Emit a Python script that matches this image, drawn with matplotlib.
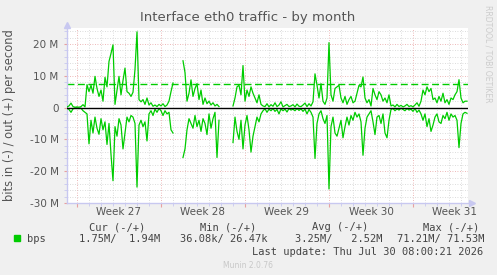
import numpy as np
import matplotlib
matplotlib.use("Agg")
import matplotlib.pyplot as plt
from matplotlib.ticker import FuncFormatter, MultipleLocator

nan = np.nan

# traffic, Mbit/s, sampled every ~2h over the month (out = +, in = -)
out_mbps = [
    0.2, 0.5, 1.4, 0.3, 0.1, 0.2, 0.1, 0.3, 0.9, 0.2,
    7.2, 5.0, 7.0, 4.5, 9.8, 6.0, 3.5, 5.5, 2.0, 9.5,
    6.5, 14.5, 17.0, 19.7, 1.0, 5.5, 9.8, 4.0, 8.5, 12.4,
    5.0, 4.5, 3.5, 4.8, 12.0, 23.8, 2.5, 1.8, 2.5, 1.0,
    3.0, 0.8, 1.5, 0.4, 0.8, 0.3, 1.0, 0.5, 1.2, 0.3,
    0.8, 2.0, 5.0, 7.7, nan, nan, nan, nan, 14.7, 11.0,
    2.0, 4.5, 8.7, 3.5, 6.0, 7.5, 2.5, 5.5, 1.0, 3.0,
    1.2, 2.0, 0.8, 1.5, 0.5, 1.0, 0.3, nan, nan, nan,
    nan, nan, nan, 0.5, 3.0, 6.5, 7.0, 4.0, 13.2, 2.0,
    5.5, 3.5, 6.5, 4.5, 3.0, 1.5, 4.0, 1.0, 0.5, 0.3,
    1.2, 0.2, 0.9, 0.4, 1.5, 0.3, 0.8, 1.8, 0.2, 0.6,
    1.0, 0.3, 0.5, 0.9, 0.2, 1.1, 0.4, 0.3, 0.8, 1.4,
    0.3, 1.2, 0.5, 1.8, 10.6, 7.0, 3.0, 7.5, 2.0, 1.0,
    3.0, 20.4, 4.0, 2.0, 6.0, 6.5, 7.0, 3.0, 1.5, 3.5,
    1.0, 2.5, 3.5, 1.5, 2.0, 4.5, 7.0, 6.5, 9.6, 3.0,
    1.5, 2.5, 0.5, 6.0, 4.0, 2.5, 5.0, 4.0, 2.0, 3.0,
    1.5, 4.0, 0.5, 0.8, 0.2, 1.0, 0.3, 0.7, 0.2, 0.5,
    1.0, 0.3, 0.6, 0.2, 0.8, 1.5, 0.4, 2.0, 5.5, 4.0,
    6.5, 5.0, 6.0, 2.5, 3.0, 1.5, 3.5, 2.0, 4.5, 1.5,
    2.5, 1.0, 3.0, 2.5, 4.0, 5.0, 8.75, 3.0, 1.5, 2.0,
    2.0,
]
in_mbps = [
    0.2, 0.6, 1.5, 0.4, 0.2, 0.1, 0.3, 0.2, 1.0, 1.5,
    2.0, 11.4, 4.0, 8.0, 3.0, 6.5, 8.4, 3.5, 7.0, 4.5,
    11.6, 5.0, 14.7, 23.0, 6.0, 9.0, 3.5, 5.5, 13.0, 8.0,
    3.0, 4.5, 2.5, 3.0, 5.0, 25.0, 5.5, 4.0, 6.0, 4.5,
    10.5, 2.0, 1.0, 2.5, 0.5, 1.5, 0.3, 1.0, 2.5, 1.0,
    2.0, 1.5, 7.0, 8.0, nan, nan, nan, nan, 15.7, 13.0,
    7.0, 3.5, 5.0, 6.5, 2.5, 6.0, 4.0, 7.5, 3.5, 5.0,
    8.5, 2.0, 6.5, 3.5, 1.5, 15.7, 4.0, nan, nan, nan,
    nan, nan, nan, 11.0, 3.0, 7.5, 10.0, 4.0, 13.0, 5.5,
    2.5, 7.0, 14.0, 9.0, 6.0, 3.0, 4.5, 2.0, 1.0, 0.4,
    1.5, 0.5, 1.0, 0.3, 1.2, 0.6, 2.0, 0.4, 1.0, 0.5,
    1.4, 0.3, 0.8, 0.5, 1.0, 0.3, 0.9, 0.4, 1.2, 0.5,
    2.0, 0.6, 1.5, 3.0, 16.0, 5.0, 2.0, 1.0, 3.5, 5.0,
    2.5, 25.6, 6.0, 3.0, 8.0, 9.0, 6.5, 4.0, 9.5, 6.0,
    3.0, 5.5, 2.5, 4.0, 1.5, 3.0, 2.0, 4.5, 15.0, 6.5,
    3.0, 2.0, 1.0, 4.5, 8.5, 3.0, 2.5, 5.0, 2.0, 8.0,
    9.5, 4.0, 0.6, 0.3, 1.0, 0.4, 0.8, 0.2, 0.6, 1.0,
    0.3, 0.8, 0.5, 1.2, 0.3, 1.5, 0.8, 2.0, 4.0, 2.0,
    6.0, 3.5, 7.5, 5.5, 3.0, 2.0, 4.5, 5.0, 2.5, 3.5,
    1.5, 4.0, 2.0, 3.0, 2.5, 4.0, 12.6, 5.0, 2.0, 1.5,
    1.8,
]
limit_mbps = 7.5

weeks = ["Week 27", "Week 28", "Week 29", "Week 30", "Week 31"]
legend_cols = ["Cur (-/+)", "Min (-/+)", "Avg (-/+)", "Max (-/+)"]
legend_vals = ["1.75M/  1.94M", "36.08k/ 26.47k", "3.25M/   2.52M", "71.21M/ 71.53M"]

# time axis in days since the start of week 27
t_start, t_end = -10 / 12, 390 / 12

GREEN = "#00cc00"
AXIS = "#c8c8f0"
W, H = 497, 275


def fx(px):
    return px / W


def fy(py):
    return 1 - py / H


fig = plt.figure(figsize=(W / 100, H / 100), dpi=100, facecolor="#f0f0f0")
ax = fig.add_axes([fx(67), fy(203), 401 / W, 175 / H])
ax.set_facecolor("white")

t_out = np.linspace(t_start, t_end, len(out_mbps))
t_in = np.linspace(t_start, t_end, len(in_mbps))

ax.axhline(limit_mbps, color=GREEN, lw=1, dashes=(5, 2.5), zorder=2)
ax.plot(t_out, out_mbps, color=GREEN, lw=0.9, zorder=3)
ax.plot(t_in, -np.array(in_mbps), color=GREEN, lw=0.9, zorder=3)
ax.axhline(0, color="black", lw=1, zorder=4)

ax.set_xlim(t_start, t_end + 1 / 12)
ax.set_ylim(-30, 25)

# grid: days / 2M minor, weeks / 10M major
ax.xaxis.set_major_locator(MultipleLocator(7))
ax.xaxis.set_minor_locator(MultipleLocator(1))
ax.yaxis.set_major_locator(MultipleLocator(10))
ax.yaxis.set_minor_locator(MultipleLocator(2))
ax.grid(which="minor", color="#d0d0d0", lw=0.6, ls=(0, (1, 2)))
ax.grid(which="major", color="#e8a0a0", lw=0.6, ls=(0, (1, 2)))
ax.set_axisbelow(True)

ax.yaxis.set_major_formatter(FuncFormatter(lambda v, p: "0" if v == 0 else "%d M" % v))
ax.set_xticklabels([])
ax.tick_params(axis="y", which="major", length=2, color="#e8a0a0", labelsize=7.5,
               labelcolor="#555555", pad=4)
ax.tick_params(axis="x", which="major", length=3, color="#e8a0a0", labelbottom=False)
ax.tick_params(which="minor", length=2, color=AXIS)

for i, w in enumerate(weeks):
    ax.text(7 * i + 3.5, -0.05, w, transform=ax.get_xaxis_transform(),
            ha="center", va="center", fontsize=7.5, color="#555555")

for s in ["top", "right"]:
    ax.spines[s].set_visible(False)
for s in ["left", "bottom"]:
    ax.spines[s].set_color(AXIS)
    ax.spines[s].set_linewidth(1)
ax.plot([0], [1.02], marker="^", ms=5, color=AXIS, transform=ax.transAxes, clip_on=False)
ax.plot([1.01], [0], marker=">", ms=5, color=AXIS, transform=ax.transAxes, clip_on=False)

fig.text(fx(248), fy(18), "Interface eth0 traffic - by month", ha="center", va="center",
         fontsize=9.5, color="#555555")
fig.text(fx(10), fy(115), "bits in (-) / out (+) per second", rotation=90, ha="center",
         va="center", fontsize=8.3, color="#555555")
fig.text(fx(488), fy(54), "RRDTOOL / TOBI OETIKER", rotation=270, ha="center", va="center",
         fontsize=5.5, color="#cccccc")

mono = "DejaVu Sans Mono"
for x, label in zip([89, 200, 312, 423], legend_cols):
    fig.text(fx(x), fy(227), label, family=mono, fontsize=7.5, color="#444444", va="center")
fig.patches.append(plt.Rectangle((fx(14), fy(241)), 6 / W, 6 / H, color=GREEN,
                                 transform=fig.transFigure, figure=fig))
fig.text(fx(27), fy(239), "bps", family=mono, fontsize=7.5, color="#444444", va="center")
for x, label in zip([79, 180, 295, 397], legend_vals):
    fig.text(fx(x), fy(239), label, family=mono, fontsize=7.5, color="#444444", va="center")
fig.text(fx(483), fy(252), "Last update: Thu Jul 30 08:00:21 2026", family=mono,
         fontsize=7.5, color="#444444", va="center", ha="right")
fig.text(fx(223), fy(265), "Munin 2.0.76", fontsize=5.5, color="#c8c8c8", va="center")

fig.savefig("out.png", dpi=100, facecolor=fig.get_facecolor())
